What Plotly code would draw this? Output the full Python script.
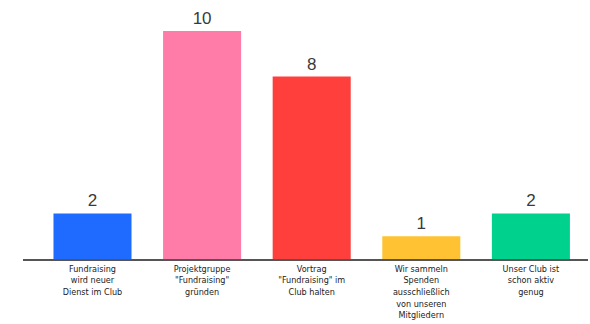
import plotly.graph_objects as go

categories = [
    "Fundraising<br>wird neuer<br>Dienst im Club",
    "Projektgruppe<br>\"Fundraising\"<br>gründen",
    "Vortrag<br>\"Fundraising\" im<br>Club halten",
    "Wir sammeln<br>Spenden<br>ausschließlich<br>von unseren<br>Mitgliedern",
    "Unser Club ist<br>schon aktiv<br>genug",
]
values = [2, 10, 8, 1, 2]
colors = ["#1F6BFF", "#FF7BA8", "#FF3F3C", "#FFC232", "#00D18C"]

x = list(range(len(categories)))

fig = go.Figure(
    go.Bar(
        x=x,
        y=values,
        marker=dict(color=colors, line=dict(width=0)),
        text=[str(v) for v in values],
        textposition="outside",
        textfont=dict(family="Liberation Sans, Arial, sans-serif", size=17, color="#3a3a3a"),
        cliponaxis=False,
        hoverinfo="skip",
    )
)

fig.update_layout(
    width=590,
    height=324,
    margin=dict(l=23, r=2, t=31, b=65),
    paper_bgcolor="white",
    plot_bgcolor="white",
    bargap=0.288,
    showlegend=False,
    xaxis=dict(
        tickmode="array",
        tickvals=x,
        ticktext=categories,
        range=[-0.634, 4.521],
        showgrid=False,
        zeroline=False,
        showline=True,
        linecolor="#555555",
        linewidth=1.5,
        ticks="",
        tickfont=dict(family="DejaVu Sans Condensed, Liberation Sans Narrow, sans-serif", size=9, color="#222222"),
    ),
    yaxis=dict(
        range=[0, 10],
        visible=False,
        showgrid=False,
        zeroline=False,
    ),
)

fig.write_html("out.html")
